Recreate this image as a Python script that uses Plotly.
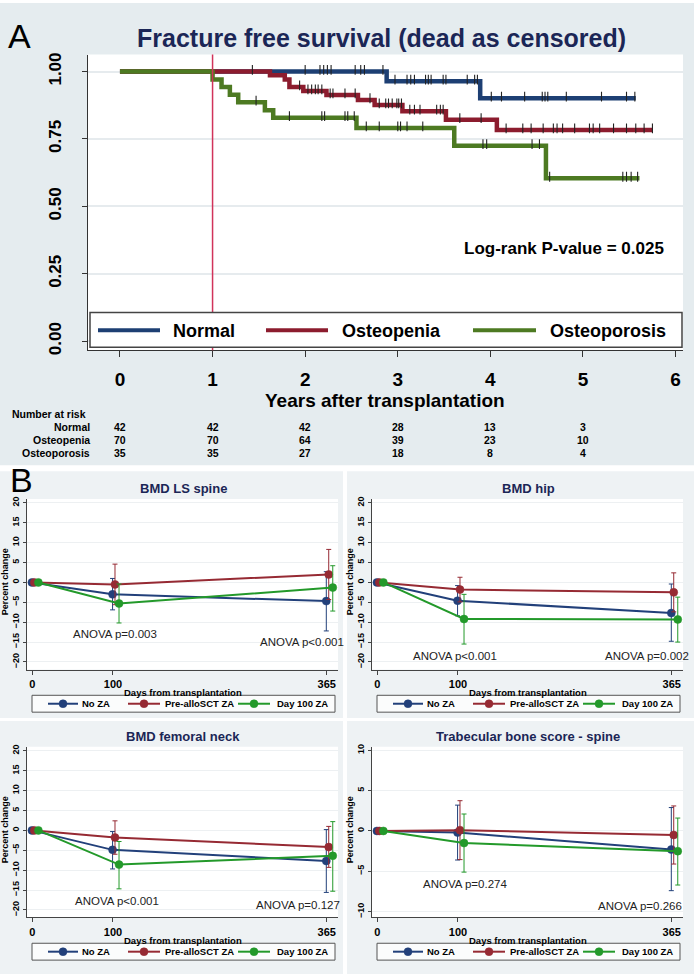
import numpy as np
import plotly.graph_objects as go

W, H = 694, 979
FONT = "Liberation Sans, Arial, sans-serif"

# ---------------- Panel A data ----------------
normal_t = [0, 2.88, 3.89, 5.57]
normal_s = [1.0, 0.964, 0.901, 0.901]
osteopenia_t = [0, 1.62, 1.78, 1.83, 1.98, 2.23, 2.57, 2.75, 3.05, 3.52, 4.07, 5.75]
osteopenia_s = [1.0, 0.986, 0.971, 0.943, 0.928, 0.913, 0.895, 0.876, 0.853, 0.821, 0.783, 0.783]
osteoporosis_t = [0, 1.0, 1.097, 1.187, 1.277, 1.565, 1.655, 2.554, 3.61, 4.60, 5.61]
osteoporosis_s = [1.0, 0.971, 0.943, 0.914, 0.886, 0.857, 0.829, 0.791, 0.725, 0.604, 0.604]

normal_cens = [2.0, 2.16, 2.2, 2.24, 2.28, 2.54, 2.6, 2.64, 2.84, 2.97, 3.1, 3.14, 3.18,
               3.3, 3.33, 3.36, 3.49, 3.52, 3.75, 3.83, 3.86, 4.01, 4.12, 4.37, 4.56,
               4.59, 4.62, 4.82, 5.2, 5.47, 5.56]
osteopenia_cens = [1.43, 1.94, 2.03, 2.07, 2.11, 2.14, 2.18, 2.27, 2.3, 2.43, 2.54, 2.7,
                   2.8, 2.87, 2.9, 2.94, 2.99, 3.01, 3.04, 3.13, 3.18, 3.24, 3.42, 3.46,
                   3.49, 3.67, 3.9, 4.17, 4.35, 4.44, 4.57, 4.68, 4.72, 4.78, 4.91, 5.07,
                   5.11, 5.18, 5.33, 5.47, 5.57, 5.66, 5.75]
osteoporosis_cens = [1.47, 1.83, 2.18, 2.21, 2.43, 2.46, 2.53, 2.66, 2.8, 3.0, 3.03, 3.1,
                     3.27, 3.92, 3.96, 4.45, 4.53, 4.64, 5.43, 5.47, 5.52, 5.59]

risk_times = [0, 1, 2, 3, 4, 5]
risk_groups = ["Normal", "Osteopenia", "Osteoporosis"]
risk_normal = [42, 42, 42, 28, 13, 3]
risk_osteopenia = [70, 70, 64, 39, 23, 10]
risk_osteoporosis = [35, 35, 27, 18, 8, 4]

a_xticks = [0, 1, 2, 3, 4, 5, 6]
a_yticks = [0, 0.25, 0.5, 0.75, 1.0]

# ---------------- Panel B data ----------------
days = [0, 100, 365]
b_groups = ["No ZA", "Pre-alloSCT ZA", "Day 100 ZA"]

ls_no_mean = [0, -3.0, -4.7];  ls_no_hi = [0, 1.0, 2.7];  ls_no_lo = [0, -6.9, -12.2]
ls_pre_mean = [0, -0.5, 2.0];  ls_pre_hi = [0, 4.6, 8.3]; ls_pre_lo = [0, -5.6, -4.3]
ls_d100_mean = [0, -5.3, -1.3]; ls_d100_hi = [0, -0.4, 4.2]; ls_d100_lo = [0, -10.2, -7.2]

hip_no_mean = [0, -4.6, -7.7];  hip_no_hi = [0, -0.8, -0.4];  hip_no_lo = [0, -8.4, -14.8]
hip_pre_mean = [0, -1.8, -2.5]; hip_pre_hi = [0, 1.3, 2.4];   hip_pre_lo = [0, -4.9, -7.4]
hip_d100_mean = [0, -9.2, -9.3]; hip_d100_hi = [0, -3.0, -3.7]; hip_d100_lo = [0, -15.5, -15.0]

fn_no_mean = [0, -4.9, -7.7];  fn_no_hi = [0, -0.3, 0.2];  fn_no_lo = [0, -9.7, -15.6]
fn_pre_mean = [0, -1.8, -4.2]; fn_pre_hi = [0, 2.4, 1.0];  fn_pre_lo = [0, -6.0, -9.3]
fn_d100_mean = [0, -8.6, -6.4]; fn_d100_hi = [0, -2.8, 2.2]; fn_d100_lo = [0, -14.7, -15.3]

tbs_no_mean = [0, -0.2, -2.3];  tbs_no_hi = [0, 3.2, 2.9];   tbs_no_lo = [0, -3.6, -7.4]
tbs_pre_mean = [0, 0.1, -0.5];  tbs_pre_hi = [0, 3.75, 3.1]; tbs_pre_lo = [0, -3.55, -4.1]
tbs_d100_mean = [0, -1.5, -2.5]; tbs_d100_hi = [0, 2.1, 1.6]; tbs_d100_lo = [0, -5.1, -6.7]

b_titles = ["BMD LS spine", "BMD hip", "BMD femoral neck", "Trabecular bone score - spine"]
b_anova = [["ANOVA p=0.003", "ANOVA p<0.001"], ["ANOVA p<0.001", "ANOVA p=0.002"],
           ["ANOVA p<0.001", "ANOVA p=0.127"], ["ANOVA p=0.274", "ANOVA p=0.266"]]
b_yticks_bmd = [-20, -15, -10, -5, 0, 5, 10, 15, 20]
b_yticks_tbs = [-10, -5, 0, 5, 10]

# ---------------- styles ----------------
A_COL = ["#1d3f73", "#8c1c2e", "#4d7a22"]
B_COL = ["#22407a", "#962a33", "#23992a"]
B_DODGE = [-0.5, 2.5, 7.5]
TITLE_COL = "#1b2656"


def px(x):
    return x / W


def py(y):
    return 1 - y / H


def note(text, x, y, size, color="black", xanchor="center", xref="paper", angle=0):
    return dict(text=text, x=x, y=y, xref=xref, yref="paper", xanchor=xanchor, yanchor="middle",
                showarrow=False, textangle=angle, font=dict(family=FONT, size=size, color=color))


fig = go.Figure()
shapes = []
annotations = []

# backgrounds
shapes.append(dict(type="rect", xref="paper", yref="paper", x0=0, x1=1, y0=py(466), y1=1,
                   fillcolor="#e5ecef", line_width=0, layer="below"))
for (x0, x1, y0, y1) in [(0, 343, 472, 721), (347, 694, 472, 721), (0, 343, 724, 979), (347, 694, 724, 979)]:
    shapes.append(dict(type="rect", xref="paper", yref="paper", x0=px(x0), x1=px(x1),
                       y0=py(y1), y1=py(y0), fillcolor="#eef2f4", line_width=0, layer="below"))

# plot area boxes (px): A, B1..B4
A_BOX = (88, 683, 52, 350)
B_BOX = [(27, 338, 500, 672), (372, 683, 500, 672), (27, 338, 750, 922), (372, 683, 750, 922)]
for (l, r, t, b) in [A_BOX] + B_BOX:
    shapes.append(dict(type="rect", xref="paper", yref="paper", x0=px(l), x1=px(r),
                       y0=py(b), y1=py(t), fillcolor="white", line_width=0, layer="below"))

# ---------------- Panel A traces ----------------
curves = [(normal_t, normal_s, normal_cens), (osteopenia_t, osteopenia_s, osteopenia_cens),
          (osteoporosis_t, osteoporosis_s, osteoporosis_cens)]
for i, (t, s, c) in enumerate(curves):
    fig.add_trace(go.Scatter(x=t, y=s, mode="lines", line=dict(color=A_COL[i], width=4.5, shape="hv"),
                             xaxis="x", yaxis="y", showlegend=False, hoverinfo="skip"))
for i, (t, s, c) in enumerate(curves):
    idx = np.searchsorted(np.array(t), np.array(c), side="right") - 1
    cy = np.array(s)[idx]
    fig.add_trace(go.Scatter(x=c, y=cy + 0.006, mode="markers",
                             marker=dict(symbol="line-ns", size=7, line=dict(color="#222", width=1.1)),
                             xaxis="x", yaxis="y", showlegend=False, hoverinfo="skip"))

# red vertical line at 1 year
shapes.append(dict(type="line", xref="x", yref="paper", x0=1, x1=1, y0=py(A_BOX[3]), y1=py(A_BOX[2]),
                   line=dict(color="#d1335a", width=1.5), layer="above"))

# legend A
shapes.append(dict(type="rect", xref="paper", yref="paper", x0=px(90), x1=px(682), y0=py(347), y1=py(312),
                   fillcolor="white", line=dict(color="#444", width=1.5), layer="above"))
leg_a = [(98, 160, 171), (266, 328, 340), (473, 536, 548)]
for i, (l0, l1, tx) in enumerate(leg_a):
    shapes.append(dict(type="line", xref="paper", yref="paper", x0=px(l0), x1=px(l1), y0=py(330), y1=py(330),
                       line=dict(color=A_COL[i], width=4), layer="above"))
    annotations.append(note("<b>%s</b>" % risk_groups[i], px(tx), py(331), 18, xanchor="left"))

annotations.append(note("A", px(19), py(33), 34))
annotations.append(note("<b>Fracture free survival (dead as censored)</b>", px(381), py(35), 25, TITLE_COL))
annotations.append(note("<b>Log-rank P-value = 0.025</b>", px(666), py(248), 17, xanchor="right"))
annotations.append(note("<b>Years after transplantation</b>", px(385), py(401), 19))
annotations.append(note("<b>Number at risk</b>", px(10), py(414), 10.5, xanchor="left"))
risk_rows = [risk_normal, risk_osteopenia, risk_osteoporosis]
risk_y = [427, 441, 454]
for g, row, yy in zip(risk_groups, risk_rows, risk_y):
    annotations.append(note("<b>%s</b>" % g, px(92), py(yy), 10.5, xanchor="right"))
    for tt, v in zip(risk_times, row):
        annotations.append(note("<b>%d</b>" % v, tt, py(yy), 10.5, xref="x"))

# ---------------- Panel B traces ----------------
b_data = [
    [(ls_no_mean, ls_no_hi, ls_no_lo), (ls_pre_mean, ls_pre_hi, ls_pre_lo), (ls_d100_mean, ls_d100_hi, ls_d100_lo)],
    [(hip_no_mean, hip_no_hi, hip_no_lo), (hip_pre_mean, hip_pre_hi, hip_pre_lo), (hip_d100_mean, hip_d100_hi, hip_d100_lo)],
    [(fn_no_mean, fn_no_hi, fn_no_lo), (fn_pre_mean, fn_pre_hi, fn_pre_lo), (fn_d100_mean, fn_d100_hi, fn_d100_lo)],
    [(tbs_no_mean, tbs_no_hi, tbs_no_lo), (tbs_pre_mean, tbs_pre_hi, tbs_pre_lo), (tbs_d100_mean, tbs_d100_hi, tbs_d100_lo)],
]
for k in range(4):
    xa, ya = "x%d" % (k + 2), "y%d" % (k + 2)
    for g in range(3):
        m, hi, lo = b_data[k][g]
        m = np.array(m, float); hi = np.array(hi, float); lo = np.array(lo, float)
        fig.add_trace(go.Scatter(
            x=np.array(days) + B_DODGE[g], y=m, mode="lines+markers",
            line=dict(color=B_COL[g], width=2),
            marker=dict(color=B_COL[g], size=8, line=dict(color=B_COL[g], width=0.5)),
            error_y=dict(type="data", symmetric=False, array=hi - m, arrayminus=m - lo,
                         color=B_COL[g], thickness=1, width=2.5),
            xaxis=xa, yaxis=ya, showlegend=False, hoverinfo="skip"))

B_TITLE_POS = [(183, 490), (528, 490), (183, 740), (528, 740)]
B_ANOVA_POS = [[(115, 636), (302, 644)], [(455, 658), (647, 658)],
               [(117, 905), (298, 909)], [(465, 888), (640, 910)]]
for k in range(4):
    l, r, t, b = B_BOX[k]
    tx, ty = B_TITLE_POS[k]
    annotations.append(note("<b>%s</b>" % b_titles[k], px(tx), py(ty), 13, TITLE_COL))
    annotations.append(note("<b>Days from transplantation</b>", px(tx), py(b + 23), 9.5))
    annotations.append(note("<b>Percent change</b>", px(l - 22), py((t + b) / 2 - 2), 9, angle=-90))
    for txt, (ax_, ay_) in zip(b_anova[k], B_ANOVA_POS[k]):
        annotations.append(note(txt, px(ax_), py(ay_), 11.5, "#222"))
    # legend box
    bx = l + 5
    lt, lb = b + 26, b + 43
    lyc = (lt + lb) / 2
    shapes.append(dict(type="rect", xref="paper", yref="paper", x0=px(bx), x1=px(bx + 303), y0=py(lb), y1=py(lt),
                       fillcolor="#fbfcfc", line=dict(color="#555", width=1), layer="above"))
    items = [(16, 46, 48), (96, 128, 131), (206, 238, 243)]
    for g, (a0, a1, at) in enumerate(items):
        shapes.append(dict(type="line", xref="paper", yref="paper", x0=px(bx + a0), x1=px(bx + a1),
                           y0=py(lyc), y1=py(lyc), line=dict(color=B_COL[g], width=2), layer="above"))
        r_ = 4
        cxp = bx + (a0 + a1) / 2
        shapes.append(dict(type="circle", xref="paper", yref="paper",
                           x0=px(cxp - r_), x1=px(cxp + r_), y0=py(lyc + r_), y1=py(lyc - r_),
                           fillcolor=B_COL[g], line=dict(color=B_COL[g], width=0.5), layer="above"))
        annotations.append(note("<b>%s</b>" % b_groups[g], px(bx + at), py(lyc), 9.5, xanchor="left"))

annotations.append(note("B", px(21), py(481), 34))

# ---------------- axes ----------------
layout = dict(width=W, height=H, margin=dict(l=0, r=0, t=0, b=0), autosize=False,
              paper_bgcolor="white", plot_bgcolor="white", showlegend=False,
              shapes=shapes, annotations=annotations)

l, r, t, b = A_BOX
layout["xaxis"] = dict(domain=[px(l), px(r)], range=[-0.345, 6.08], tickvals=a_xticks,
                       ticks="outside", ticklen=6, tickcolor="#333", showline=True, linecolor="#333",
                       linewidth=1, showgrid=False, zeroline=False, ticklabelstandoff=6,
                       tickfont=dict(family=FONT, size=19, color="black", weight="bold"), anchor="y")
layout["yaxis"] = dict(domain=[py(b), py(t)], range=[-0.033, 1.063], tickvals=a_yticks, tickformat=".2f",
                       tickangle=-90, ticks="outside", ticklen=5, tickcolor="#333", showline=True,
                       linecolor="#333", linewidth=1, showgrid=True, gridcolor="#e6ebee", gridwidth=1.5,
                       zeroline=False, ticklabelstandoff=14,
                       tickfont=dict(family=FONT, size=17, color="black", weight="bold"), anchor="x")

for k in range(4):
    l, r, t, b = B_BOX[k]
    xk, yk = "xaxis%d" % (k + 2), "yaxis%d" % (k + 2)
    if k < 3:
        yr, yt = [-21.9, 21.0], b_yticks_bmd
    else:
        yr, yt = [-10.72, 10.42], b_yticks_tbs
    layout[xk] = dict(domain=[px(l), px(r)], range=[-6.6, 379], tickvals=days, ticks="outside", ticklen=4,
                      tickcolor="#444", showline=True, linecolor="#444", linewidth=1, showgrid=False,
                      zeroline=False, anchor="y%d" % (k + 2),
                      tickfont=dict(family=FONT, size=11, color="black", weight="bold"))
    layout[yk] = dict(domain=[py(b), py(t)], range=yr, tickvals=yt, tickangle=-90, ticks="outside", ticklen=3,
                      tickcolor="#444", showline=True, linecolor="#444", linewidth=1, showgrid=True,
                      gridcolor="#edf0f2", zeroline=False, anchor="x%d" % (k + 2), ticklabelstandoff=0,
                      tickfont=dict(family=FONT, size=9, color="black", weight="bold"))

fig.update_layout(**layout)
fig.write_html("out.html", config={"displayModeBar": False},
               post_script="document.body.style.margin='0';document.body.style.overflow='hidden';")
